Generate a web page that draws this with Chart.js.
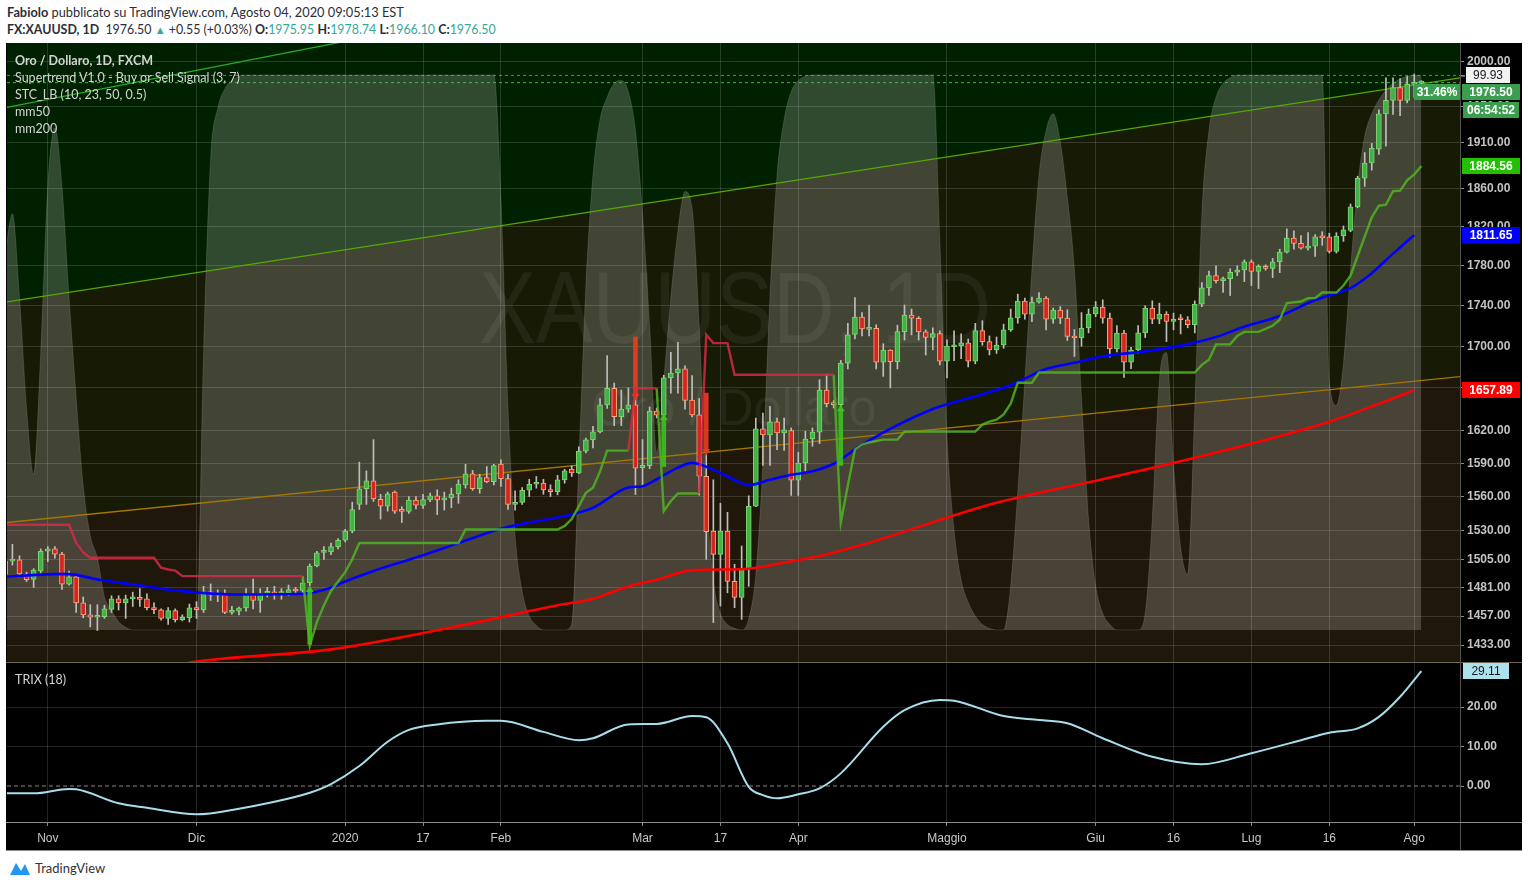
<!DOCTYPE html>
<html>
<head>
<meta charset="utf-8">
<script src="https://cdn.jsdelivr.net/npm/chart.js@4.4.0/dist/chart.umd.min.js"></script>
<style>
  body { margin: 0; width: 1528px; height: 887px; background: #fff; position: relative; overflow: hidden; font-family: Lato, "Liberation Sans", sans-serif; }
  #hdr { position: absolute; left: 7px; top: 4px; font-size: 12.8px; line-height: 17px; color: #2a2e39; white-space: nowrap; }
  #hdr .l2 { font-size: 12.4px; }
  #hdr .t { color: #35a899; }
  #hdr .tri { color: #35a899; font-size: 11px; }
  #box { position: absolute; left: 6px; top: 43px; width: 1516px; height: 808px; background: #000; }
  canvas { position: absolute; }
  #main { left: 7px; top: 43px; }
  #trix { left: 7px; top: 663px; }
  .ln { position: absolute; }
  .lg { position: absolute; left: 15px; color: #d4d4d4; font-size: 12.5px; line-height: 17px; white-space: nowrap; pointer-events: none; }
  #brand { position: absolute; left: 8px; top: 859px; font-size: 13px; color: #333; display: flex; align-items: center; gap: 3px; }
</style>
</head>
<body>
<div id="hdr">
  <div><b>Fabiolo</b> pubblicato su TradingView.com, Agosto 04, 2020 09:05:13 EST</div>
  <div class="l2"><b>FX:XAUUSD, 1D</b>&nbsp; 1976.50 <span class="tri">▲</span> +0.55 (+0.03%) <b>O:</b><span class="t">1975.95</span> <b>H:</b><span class="t">1978.74</span> <b>L:</b><span class="t">1966.10</span> <b>C:</b><span class="t">1976.50</span></div>
</div>
<div id="box"></div>
<canvas id="main" width="1515" height="619"></canvas>
<canvas id="trix" width="1515" height="187"></canvas>
<div class="ln" style="left:6px;top:662px;width:1516px;height:1px;background:#6f6753"></div>
<div class="ln" style="left:1460px;top:43px;width:1px;height:808px;background:#505050"></div>
<div class="ln" style="left:6px;top:822px;width:1516px;height:1px;background:#8a8a8a"></div>
<div class="ln" style="left:6px;top:850px;width:1516px;height:1px;background:#8a8a8a"></div>
<div class="lg" style="top:52px"><b>Oro / Dollaro, 1D, FXCM</b><br>Supertrend V1.0 - Buy or Sell Signal (3, 7)<br>STC_LB (10, 23, 50, 0.5)<br>mm50<br>mm200</div>
<div class="lg" style="top:671px">TRIX (18)</div>
<div id="brand"><svg width="24" height="18" viewBox="0 0 24 18"><path d="M2 16 L8 4 L13 12 L17 5 L22 16 Z" fill="#2196f3"/></svg>TradingView</div>

<script>
// x positions are bar indices: 0 = 24 Oct 2019 ... 200 = 4 Aug 2020
const tickIdx = [6, 27, 48, 59, 70, 90, 101, 112, 133, 154, 165, 176, 187, 199];
const tickText = ['Nov', 'Dic', '2020', '17', 'Feb', 'Mar', '17', 'Apr', 'Maggio', 'Giu', '16', 'Lug', '16', 'Ago'];
const priceTicks = [1433, 1457, 1481, 1505, 1530, 1560, 1590, 1620, 1660, 1700, 1740, 1780, 1820, 1860, 1910, 1950, 2000];
const trixTicks = [0, 10, 20];

// daily candles [open, high, low, close]
const ohlc = [
  [1492,1507,1488,1503.5],[1503.5,1518,1500,1505],[1504.6,1508,1490,1492.5],[1492,1494,1486,1487.5],[1487.8,1497,1481,1495.7],
  [1495,1514,1493,1512],[1512,1516,1503,1514],[1514,1516,1506,1509.5],[1509.5,1511,1479.3,1483.7],[1483.7,1495,1483,1490],
  [1490,1492,1460,1468],[1468,1473,1455.5,1458],[1458,1466.5,1448,1456],[1456,1466.5,1445,1457],[1456.5,1466,1455,1463],
  [1462.5,1474,1460,1471.4],[1471.4,1474,1462,1468],[1468,1474.5,1455,1471.4],[1471.4,1477,1465,1472.3],[1472.3,1480,1465,1471],
  [1471.4,1475.5,1462,1464],[1464,1468,1459,1462.2],[1462.2,1463,1453.5,1455],[1455,1464,1450,1461.5],[1461.5,1463,1452,1454],
  [1454,1458,1453,1456],[1455.5,1467,1452,1463.9],[1464,1469,1455,1462.2],[1462,1482,1460,1477.3],[1477.3,1484,1470,1474.5],
  [1474.5,1479,1469,1475.5],[1475.6,1479,1459,1460],[1460,1465,1458.5,1461.5],[1461,1464.5,1458,1463.7],[1463.7,1480,1461,1475],
  [1475,1488,1463,1470],[1470,1480,1460,1476],[1476,1481,1473,1476.3],[1476.3,1482,1471,1475.5],[1475.8,1480,1471,1476.2],
  [1476.2,1483,1474,1479.2],[1479.2,1481,1475,1478],[1478.5,1488,1476.5,1484.8],[1484.8,1501,1482.5,1499.3],[1499.3,1512,1498.5,1510.7],
  [1511,1516,1505,1511.3],[1511.3,1519,1509,1516],[1516,1523,1514,1521.5],[1521.5,1531,1520,1529.5],[1529.5,1555,1528,1548.5],
  [1553,1591,1548.5,1567],[1567,1583,1553,1574],[1574,1611.6,1555.6,1557.8],[1557.5,1562,1540,1551.5],[1551.5,1564,1547,1562.5],
  [1564,1565,1545,1547],[1547.5,1551,1537,1546.8],[1546.8,1560,1545,1556.8],[1556.8,1560,1549,1552.3],[1552,1562,1549.5,1557.3],
  [1557,1563,1555.5,1560.6],[1560.6,1566,1544,1557],[1557,1564,1548,1558.8],[1558.8,1567.5,1550,1562.3],[1562.3,1575,1554,1571.2],
  [1570.3,1589,1567.5,1580.3],[1580.3,1583.5,1565.5,1567],[1567,1580,1563,1577],[1577,1587,1572.5,1573.3],[1573.3,1589,1570.5,1587.8],
  [1589.3,1593,1569,1576],[1576,1580,1548.5,1553],[1553,1565,1548,1554.8],[1554.8,1568,1553,1565.6],[1565.6,1575.5,1560,1571],
  [1571,1578,1567.5,1572.3],[1572,1575.5,1562,1566],[1566.3,1570.5,1560,1564.3],[1564.3,1579,1561.5,1575],[1575,1584.5,1572,1583],
  [1584.8,1587.5,1578,1581.3],[1581.3,1605,1580.5,1601],[1601,1613,1599.5,1611.3],[1611.3,1624,1604,1618.7],[1618.7,1649.8,1617.8,1643.9],
  [1643.9,1691,1640.7,1659.5],[1659.5,1664.6,1624.5,1633],[1633,1658,1624.5,1640],[1640,1660,1637,1644],[1643.9,1650.3,1561.8,1585.6],
  [1586,1611.6,1569.3,1588],[1587.8,1642,1585,1638.2],[1638.2,1641,1631.7,1634.4],[1634.4,1672,1633,1669.5],[1669.5,1694,1655,1674.2],
  [1674.2,1703.7,1655,1678.1],[1678.1,1681,1640,1648.2],[1648.5,1671.6,1632.6,1634.5],[1634.5,1650,1561.3,1578.2],[1578.2,1597.8,1505,1529],
  [1529.6,1575,1451.6,1509.3],[1509.3,1554,1465.3,1529.6],[1529.6,1546,1476.5,1486.2],[1486.2,1500.8,1464,1472.6],[1472.6,1516.5,1454.2,1497],
  [1497,1560.6,1482,1551.4],[1551.4,1631.6,1551,1621.5],[1621.5,1636.3,1588,1616],[1616,1642.5,1588,1628],[1628,1631.6,1602.4,1617.9],
  [1617.9,1631.6,1601.6,1620.6],[1620,1622.4,1561,1574.7],[1574.7,1600,1561,1590.2],[1590.2,1619.3,1581.5,1612.2],[1612.2,1622.4,1605.5,1618.6],
  [1618.6,1667.8,1608,1658],[1658,1672.5,1642,1645],[1644.6,1648,1641,1644.2],[1644.2,1686.3,1642,1683.7],[1683.7,1722.5,1678,1711],
  [1711.6,1748,1707,1728.6],[1728.6,1733,1710,1717],[1716.4,1740.5,1710,1717.7],[1717.4,1721,1678,1684.5],[1684.5,1702.4,1671,1696.3],
  [1696.3,1696.6,1660,1685],[1685,1720.6,1678,1714.2],[1714.2,1740.5,1706,1730.6],[1730.6,1736.5,1711,1727.4],[1727.4,1729,1706,1714],
  [1714,1716,1691.5,1708.5],[1708.5,1718,1696.5,1712.4],[1712.4,1715,1682,1685.6],[1685.6,1706.3,1669.4,1700.2],[1699.5,1715,1686,1700.2],
  [1700.2,1712,1688,1703.2],[1703.2,1707,1680,1685.6],[1685.6,1722.4,1683,1715.3],[1715.3,1725,1701,1704.4],[1704.4,1710,1691.6,1696.3],
  [1696.3,1709,1693,1701.2],[1701.2,1721.6,1698,1716],[1716,1736.5,1714.5,1727.7],[1727.7,1751.4,1722.5,1744.4],[1744.4,1747.4,1726.6,1731.5],
  [1731.5,1748.4,1724,1743.4],[1743.4,1753,1742.4,1747.4],[1747.4,1749,1716,1726.6],[1726.6,1737.5,1722.5,1735.5],[1735.5,1739,1722,1727.6],
  [1727.6,1735.8,1705.6,1709.6],[1710,1716.3,1690,1708],[1708,1733,1700,1717.8],[1717.8,1736.6,1713,1731.6],[1731.6,1744,1729,1738.5],
  [1738.5,1745.7,1722.5,1727.6],[1727.6,1732.5,1689.5,1697.3],[1697.3,1720.3,1694.4,1712.9],[1712.9,1715.5,1670,1684.6],[1684.6,1699,1678.3,1696.3],
  [1696.3,1720.3,1693,1713],[1713,1739.8,1708.4,1737.5],[1737.5,1744.7,1722,1726.6],[1726.6,1742.4,1722,1731.5],[1731.5,1734,1704.5,1724.2],
  [1724.2,1732.5,1716,1726.6],[1726.6,1731,1712,1725.9],[1725.9,1729,1718,1721],[1721,1744.7,1713,1741.4],[1741.4,1763,1739,1757.7],
  [1757.5,1774.6,1750,1770],[1770,1780,1762.7,1765],[1765,1768.5,1753,1767],[1767,1777,1750,1773.4],[1773.4,1780,1770,1775.7],
  [1775.7,1786,1764,1784],[1784,1786,1760,1774.3],[1774.3,1781,1757,1779.4],[1779.4,1781,1775.5,1777.4],[1777.4,1787.5,1768,1784],
  [1784,1797,1773,1794],[1794,1818,1793,1808.3],[1808.3,1816,1797,1803],[1803,1811,1797,1798],[1798,1814,1796,1800],
  [1800,1812,1789.5,1809.6],[1809.6,1815,1801,1808.6],[1809.6,1813.5,1793,1794.6],[1794.6,1814,1793,1810.6],[1810.6,1821,1805,1817],
  [1816.3,1844,1815,1841],[1841,1873.5,1840,1871.4],[1871.4,1899,1862.6,1887.7],[1887.7,1909,1880,1903.6],[1902.6,1946,1897,1941.6],
  [1941.6,1981.8,1906,1956.6],[1956.6,1981.8,1941,1971],[1971,1981,1939.6,1956.6],[1956.6,1983.5,1953.8,1974.5],[1974.5,1986.3,1960,1975.9],
  [1975.95,1978.74,1966.1,1976.5]
];

// moving averages [bar, value]
const mm50 = [[0,1490],[7,1492.3],[9,1492.3],[13,1487.8],[18,1483.5],[25,1477.9],[32,1475.1],[42,1475.7],[46,1480.7],[48,1486],
  [52,1495],[58,1506.5],[64,1519],[70,1531.5],[74,1537],[80,1544],[83,1550],[88,1568],[90,1569.3],[92,1575.5],[95,1586],[97,1590.3],
  [100,1584],[104,1572],[105,1570.2],[108,1575],[111,1579.5],[114,1582.7],[117,1589.5],[121,1607],[131,1640],[138,1654],[142,1662.5],
  [147,1678],[151,1684],[155,1690.2],[161,1695],[166,1700.6],[171,1709],[175,1719],[180,1729.6],[185,1745.5],[188,1752.5],[190,1757.5],
  [193,1772.5],[196,1792.4],[199,1811.65]];
const mm200 = [[22,1414],[27,1419.5],[46,1429.5],[63,1447.5],[78,1466],[83,1471.5],[88,1482],[92,1487.5],[97,1495.7],[102,1496.3],
  [105,1496.9],[111,1503.4],[116,1509.2],[121,1517.5],[140,1554.5],[155,1575.5],[169,1596.5],[187,1628.2],[194,1645],[199,1657.89]];

// supertrend segments [bar, value]
const stDown = [
  [[0,1535],[9,1535],[10,1519.4],[11,1511],[12,1506.3],[21,1506.3],[22,1497.8],[23,1496.3],[24,1495.4],[25,1490.6],[42,1490.6]],
  [[88,1601.5],[89,1659.5],[92,1659.5]],
  [[98,1562.7],[99,1711.2],[100,1703],[102,1703],[103,1672.5],[117,1672.5]]
];
const stUp = [
  [[42,1490.6],[43,1432.5],[44,1452],[45,1466],[46,1478],[47,1486],[48,1494],[49,1505],[50,1519.1],[64,1519.1],[65,1530.9],[78,1530.9],
   [79,1534],[80,1540],[81,1551.4],[82,1563.3],[83,1567.8],[84,1582.6],[85,1601.5],[88,1601.5]],
  [[92,1659.5],[93,1547],[94,1556],[95,1562.7],[98,1562.7]],
  [[117,1672.5],[118,1536.8],[119,1570],[120,1602.4],[121,1607],[122,1609],[124,1611.6],[126,1611.6],[127,1619],[137,1619],[138,1625.5],
   [139,1628.3],[140,1630],[141,1635],[142,1645],[143,1664.9],[145,1664.9],[146,1674.7],[168,1674.7],[169,1682],[170,1686.9],[171,1701.8],
   [173,1701.8],[174,1710],[175,1714],[177,1714],[179,1720],[180,1725.9],[181,1742.5],[183,1744],[184,1747.4],[185,1747.4],[186,1753],
   [188,1753],[189,1760],[190,1770],[191,1790],[192,1810],[193,1830],[194,1842.2],[195,1843.3],[196,1857.5],[197,1858.2],[198,1869.2],
   [199,1875.4],[200,1884.56]]
];
// buy / sell signal arrows [bar, from, to]
const signals = [[43,1433.6,1479],[89,1709,1652],[93,1587,1632],[99,1655,1601],[118,1588,1640]];

// STC oscillator, 0..100, one value per bar
const stc = [
  68,75,60,40,28,50,80,90.5,80,60, 42,26,17,13,6,3.5,1.5,0.5,0,0,
  0,0,0,0,0,0,0,0,50,85, 94,97.5,99,99.8,100,100,100,100,100,100,
  100,100,100,100,100,100,100,100,100,100, 100,100,100,100,100,100,100,100,100,100,
  100,100,100,100,100,100,100,100,100,100, 78,40,17,7,2.5,0.8,0,0,0,0,
  1,30,62,82,92,96,98.5,99,97,90, 75,55,32,45,60,72,79,76,55,25,
  9,3,1,0.3,0,2,10,30,60,82, 92,97,99,99.8,100,100,100,100,100,100,
  100,100,100,100,100,100,100,100,100,100, 100,100,70,35,18,9,5,2.5,1,0.3,
  0,0,8,25,45,65,82,90,93,88, 78,65,42,20,8,3,1,0,0,0,
  0,3,20,45,50,30,15,10,40,75, 90,96,98.5,99.5,100,100,100,100,100,100,
  100,100,100,100,100,100,100,45,40.5,48, 65,80,89,93,95.5,97.3,98.5,99.3,99.8,99.9,
  99.93
];

// trend channel ends [bar, price]
const upperChannel = [[0,1743.4],[206,1982.5]];
const lowerChannel = [[0,1536.9],[206,1671]];
const topLine = [[0,1948.3],[60,2043]];

// TRIX(18) [bar, value]
const trix = [[0,-1.85],[4,-1.85],[9,-0.76],[10,-0.84],[16,-4.38],[20,-5.49],[27,-7.16],[33,-5.75],[37,-4.38],[43,-1.7],[46,0.5],
  [50,5.06],[54,11.2],[57,14.2],[61,15.6],[68,16.5],[70,16.5],[76,13.7],[81,11.6],[83,12.1],[88,15.6],[92,15.7],[97,17.7],[99,17.4],
  [102,10.8],[105,-0.2],[107,-2.3],[109,-3.1],[112,-2.1],[115,-0.6],[118,3.2],[124,15],[127,19.2],[132,21.8],[134,21.6],[141,17.7],
  [146,16.7],[150,15.9],[155,12.1],[162,7.4],[169,5.5],[176,8.3],[183,11.6],[187,13.5],[191,14.6],[194,17.5],[197,22.6],[200,29.11]];

const lastClose = 1976.5, stcLast = 99.93;
const xMin = 0.237, xMax = 205.46;
const gridCol = 'rgba(255,255,255,0.14)';
const axisFont = { family: '"Liberation Sans", Arial, sans-serif', size: 12, weight: 'bold' };
const pts = arr => arr.map(([x, y]) => ({ x, y }));

function tag(ctx, x, yc, w, text, bg, fg, bold) {
  ctx.fillStyle = bg;
  ctx.fillRect(x, Math.round(yc) - 8, w, 16);
  ctx.fillStyle = fg;
  ctx.font = (bold ? 'bold ' : '') + '12px "Liberation Sans", Arial, sans-serif';
  ctx.textAlign = 'center';
  ctx.textBaseline = 'middle';
  ctx.fillText(text, x + w / 2, Math.round(yc) + 1);
}

const watermark = {
  id: 'watermark',
  beforeDatasetsDraw(chart) {
    const { ctx, chartArea: a } = chart;
    ctx.save();
    ctx.beginPath(); ctx.rect(a.left, a.top, a.width, a.height); ctx.clip();
    ctx.fillStyle = 'rgba(255,255,255,0.06)';
    ctx.textAlign = 'center';
    ctx.textBaseline = 'alphabetic';
    ctx.font = '102px "Liberation Sans", Arial, sans-serif';
    ctx.fillText('XAUUSD, 1D', 728, 300, 512);
    ctx.font = '52px "Liberation Sans", Arial, sans-serif';
    ctx.fillText('Oro / Dollaro', 727, 382, 285);
    ctx.restore();
  }
};

const mainTags = {
  id: 'mainTags',
  afterDraw(chart) {
    const { ctx, chartArea: a, scales } = chart;
    const y = scales.y, s = scales.stc;
    const r = a.right;
    ctx.save();
    const stcY = s.getPixelForValue(stcLast);
    ctx.strokeStyle = '#ddd'; ctx.lineWidth = 1;
    ctx.beginPath(); ctx.moveTo(r, stcY + 0.5); ctx.lineTo(r + 5, stcY + 0.5); ctx.stroke();
    tag(ctx, r + 6, stcY, 44, stcLast.toFixed(2), '#f2f2f2', '#131722', false);
    const py = Math.max(y.getPixelForValue(lastClose), stcY + 17);
    tag(ctx, r + 2, py, 58, lastClose.toFixed(2), 'rgb(58,158,78)', '#fff', true);
    tag(ctx, r + 3, py + 18, 56, '06:54:52', 'rgb(58,158,78)', '#fff', true);
    tag(ctx, r - 46, py, 46, '31.46%', 'rgb(58,158,78)', '#fff', true);
    const st = stUp[stUp.length - 1], stv = st[st.length - 1][1];
    tag(ctx, r + 2, y.getPixelForValue(stv), 58, stv.toFixed(2), 'rgb(34,192,0)', '#fff', true);
    const m50 = mm50[mm50.length - 1][1];
    tag(ctx, r + 2, y.getPixelForValue(m50), 58, m50.toFixed(2), '#0000ff', '#fff', true);
    const m200 = mm200[mm200.length - 1][1];
    tag(ctx, r + 2, y.getPixelForValue(m200), 58, m200.toFixed(2), '#ff0000', '#fff', true);
    ctx.restore();
  }
};

const upCol = 'rgb(67,176,72)', upBorder = 'rgb(125,215,110)';
const dnCol = 'rgb(214,36,30)', dnBorder = 'rgb(255,165,125)';
const isUp = ohlc.map(d => d[3] >= d[0]);
const noHover = { pointHoverRadius: 0, pointHitRadius: 0 };

const datasets = [
  { data: pts(lowerChannel), fill: 'start', backgroundColor: 'rgb(31,23,9)', borderWidth: 0, pointRadius: 0, order: 100 },
  { data: pts(lowerChannel), fill: 'end', backgroundColor: 'rgb(23,26,5)', borderColor: 'rgb(165,118,0)', borderWidth: 1.3, pointRadius: 0, order: 99 },
  { data: pts(upperChannel), fill: 'end', backgroundColor: 'rgb(0,33,0)', borderColor: 'rgb(88,168,0)', borderWidth: 1.3, pointRadius: 0, order: 98 },
  { data: pts(topLine), fill: false, borderColor: 'rgb(40,170,40)', borderWidth: 1.3, pointRadius: 0, order: 97 },
  { data: stc.map((v, i) => ({ x: i, y: v })), yAxisID: 'stc', fill: { value: 0 }, backgroundColor: 'rgba(255,255,255,0.19)',
    borderColor: 'rgba(255,255,255,0.12)', borderWidth: 1, pointRadius: 0, cubicInterpolationMode: 'monotone', order: 96 },
  { data: [{ x: xMin, y: stcLast }, { x: xMax, y: stcLast }], yAxisID: 'stc', borderColor: 'rgba(150,165,150,0.7)', borderDash: [3, 3], borderWidth: 1, pointRadius: 0, order: 60 },
  { data: [{ x: xMin, y: lastClose }, { x: xMax, y: lastClose }], borderColor: 'rgba(70,200,70,0.9)', borderDash: [3, 3], borderWidth: 1, pointRadius: 0, order: 59 },
  { type: 'bar', data: ohlc.map((d, i) => ({ x: i, y: [d[2], d[1]] })), backgroundColor: 'rgb(190,190,190)', borderWidth: 0,
    barThickness: 1, grouped: false, order: 50 },
  { type: 'bar', data: ohlc.map((d, i) => ({ x: i, y: [d[0], d[3]] })), backgroundColor: isUp.map(u => u ? upCol : dnCol),
    borderColor: isUp.map(u => u ? upBorder : dnBorder), borderWidth: 1, borderSkipped: false, barThickness: 5, minBarLength: 2, grouped: false, order: 49 },
  { data: pts(mm200), borderColor: '#ff0000', borderWidth: 2.6, pointRadius: 0, cubicInterpolationMode: 'monotone', order: 20 },
  { data: pts(mm50), borderColor: '#0000ff', borderWidth: 2.6, pointRadius: 0, cubicInterpolationMode: 'monotone', order: 19 },
  { type: 'bar', data: signals.map(s => ({ x: s[0], y: [s[1], s[2]] })),
    backgroundColor: signals.map(s => s[2] > s[1] ? 'rgba(60,200,30,0.85)' : 'rgba(235,60,30,0.9)'), borderWidth: 0,
    barThickness: 4, grouped: false, order: 15 },
  { data: signals.map(s => ({ x: s[0], y: s[2] })), showLine: false, pointStyle: 'triangle', pointRadius: 4.5,
    pointRotation: signals.map(s => s[2] > s[1] ? 0 : 180),
    pointBackgroundColor: signals.map(s => s[2] > s[1] ? 'rgba(60,200,30,0.9)' : 'rgba(235,60,30,0.9)'), pointBorderWidth: 0, order: 14 }
];
stDown.forEach(seg => datasets.push({ data: pts(seg), borderColor: 'rgba(215,40,70,0.85)', borderWidth: 2.4, pointRadius: 0, order: 10 }));
stUp.forEach(seg => datasets.push({ data: pts(seg), borderColor: 'rgba(80,180,35,0.85)', borderWidth: 2.4, pointRadius: 0, order: 10 }));
datasets.forEach(d => { if (!d.type) Object.assign(d, noHover); });

const xScale = (showLabels) => ({
  type: 'linear', min: xMin, max: xMax, offset: false, bounds: 'data',
  afterBuildTicks: s => { s.ticks = tickIdx.map(v => ({ value: v })); },
  ticks: { display: showLabels, autoSkip: false, maxRotation: 0, padding: 5, color: '#c8c8c8',
    font: { family: '"Liberation Sans", Arial, sans-serif', size: 12 },
    callback: v => tickText[tickIdx.indexOf(v)] },
  grid: { color: gridCol, offset: false, drawTicks: showLabels, tickLength: 4, tickColor: '#8a8a8a' },
  border: { display: false },
  afterFit: s => { s.height = showLabels ? 28 : 0; s.paddingLeft = 0; s.paddingRight = 0; }
});

new Chart(document.getElementById('main'), {
  type: 'line',
  data: { datasets },
  options: {
    responsive: false, animation: false, devicePixelRatio: 1,
    layout: { padding: 0, autoPadding: false },
    plugins: { legend: { display: false }, tooltip: { enabled: false }, filler: { drawTime: 'beforeDraw' } },
    scales: {
      x: xScale(false),
      y: {
        type: 'logarithmic', position: 'right', min: 1419.2, max: 2021.8, offset: false, beginAtZero: false,
        afterBuildTicks: s => { s.ticks = priceTicks.map(v => ({ value: v })); },
        ticks: { autoSkip: false, color: '#c3c3c3', font: axisFont, padding: 3, callback: v => Number(v).toFixed(2) },
        grid: { color: gridCol, tickLength: 4, tickColor: '#8a8a8a' },
        border: { display: false },
        afterFit: s => { s.width = 62; s.paddingTop = 0; s.paddingBottom = 0; }
      },
      stc: { type: 'linear', axis: 'y', position: 'right', display: false, min: -5.77, max: 105.77 }
    }
  },
  plugins: [watermark, mainTags]
});

const trixTags = {
  id: 'trixTags',
  afterDraw(chart) {
    const { ctx, chartArea: a, scales } = chart;
    const v = trix[trix.length - 1][1];
    ctx.save();
    tag(ctx, a.right + 3, scales.y.getPixelForValue(v), 46, v.toFixed(2), 'rgb(172,226,236)', '#131722', false);
    ctx.restore();
  }
};

new Chart(document.getElementById('trix'), {
  type: 'line',
  data: {
    datasets: [
      { data: [{ x: xMin, y: 0 }, { x: xMax, y: 0 }], borderColor: 'rgba(170,170,170,0.8)', borderDash: [4, 3], borderWidth: 1, pointRadius: 0, ...noHover },
      { data: pts(trix), borderColor: 'rgb(168,222,234)', borderWidth: 2, pointRadius: 0, cubicInterpolationMode: 'monotone', ...noHover }
    ]
  },
  options: {
    responsive: false, animation: false, devicePixelRatio: 1,
    layout: { padding: 0, autoPadding: false },
    plugins: { legend: { display: false }, tooltip: { enabled: false } },
    scales: {
      x: xScale(true),
      y: {
        position: 'right', min: -9.11, max: 31.14,
        afterBuildTicks: s => { s.ticks = trixTicks.map(v => ({ value: v })); },
        ticks: { autoSkip: false, color: '#c3c3c3', font: axisFont, padding: 3, callback: v => Number(v).toFixed(2) },
        grid: { color: c => (c.tick && c.tick.value === 0) ? 'rgba(0,0,0,0)' : gridCol, tickLength: 4, tickColor: '#8a8a8a' },
        border: { display: false },
        afterFit: s => { s.width = 62; s.paddingTop = 0; s.paddingBottom = 0; }
      }
    }
  },
  plugins: [trixTags]
});
</script>
</body>
</html>
